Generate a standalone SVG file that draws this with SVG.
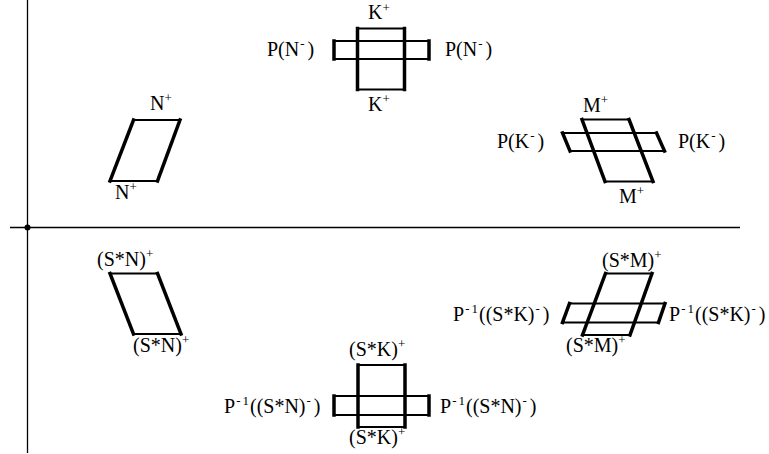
<svg xmlns="http://www.w3.org/2000/svg" width="769" height="454" viewBox="0 0 769 454">
<style>
text{font-family:"Liberation Serif","Times New Roman",serif;font-size:20px;fill:#000}
.s{font-size:13px}
.thin{stroke:#000;stroke-width:2;fill:none;stroke-linecap:square}
.thick{stroke:#000;stroke-width:3.5;fill:none;stroke-linecap:square}
.ax{stroke:#000;stroke-width:1.3;fill:none}
</style>
<rect width="769" height="454" fill="#fff"/>
<g id="axes">
<line class="ax" x1="27.5" y1="0" x2="27.5" y2="453"/>
<line class="ax" x1="10" y1="227.5" x2="740" y2="227.5"/>
<circle cx="27.5" cy="227.5" r="3" fill="#000"/>
</g>
<g id="connectors"></g>
<!-- top centre K -->
<g id="nodeK">
<line class="thin" x1="334" y1="41" x2="429" y2="41"/>
<line class="thin" x1="334" y1="59" x2="429" y2="59"/>
<line class="thick" x1="334" y1="41" x2="334" y2="59"/>
<line class="thick" x1="429" y1="41" x2="429" y2="59"/>
<line class="thin" x1="357.5" y1="28.5" x2="404.5" y2="28.5"/>
<line class="thin" x1="357.5" y1="89.5" x2="404.5" y2="89.5"/>
<line class="thick" x1="357.5" y1="28.5" x2="357.5" y2="89.5"/>
<line class="thick" x1="404.5" y1="28.5" x2="404.5" y2="89.5"/>
<text x="368" y="19">K<tspan class="s" dy="-7">+</tspan></text>
<text x="368" y="111">K<tspan class="s" dy="-8">+</tspan></text>
<text x="267" y="56">P(N<tspan class="s" dx="1" dy="-8">-</tspan><tspan dx="3" dy="8">)</tspan></text>
<text x="445" y="56">P(N<tspan class="s" dx="1" dy="-8">-</tspan><tspan dx="3" dy="8">)</tspan></text>
</g>
<!-- top left N -->
<g id="nodeN">
<line class="thin" x1="133.5" y1="120" x2="180" y2="120"/>
<line class="thin" x1="110" y1="181" x2="157.5" y2="181"/>
<line class="thick" x1="133.5" y1="120" x2="110" y2="181"/>
<line class="thick" x1="180" y1="120" x2="157.5" y2="181"/>
<text x="150" y="110">N<tspan class="s" dy="-8">+</tspan></text>
<text x="115" y="199">N<tspan class="s" dy="-8">+</tspan></text>
</g>
<!-- top right M -->
<g id="nodeM">
<line class="thin" x1="562.5" y1="133" x2="656.5" y2="133"/>
<line class="thin" x1="570" y1="151" x2="664.5" y2="151"/>
<line class="thick" x1="562.5" y1="133" x2="570" y2="151"/>
<line class="thick" x1="656.5" y1="133" x2="664.5" y2="151"/>
<line class="thin" x1="582" y1="119.5" x2="629" y2="119.5"/>
<line class="thin" x1="605" y1="181.5" x2="653" y2="181.5"/>
<line class="thick" x1="582" y1="119.5" x2="605" y2="181.5"/>
<line class="thick" x1="629" y1="119.5" x2="653" y2="181.5"/>
<text x="583" y="112">M<tspan class="s" dy="-8">+</tspan></text>
<text x="619" y="203">M<tspan class="s" dy="-8">+</tspan></text>
<text x="497" y="148">P(K<tspan class="s" dx="1" dy="-8">-</tspan><tspan dx="3" dy="8">)</tspan></text>
<text x="678" y="148">P(K<tspan class="s" dx="1" dy="-8">-</tspan><tspan dx="3" dy="8">)</tspan></text>
</g>
<!-- bottom left S*N -->
<g id="nodeSN">
<line class="thin" x1="110" y1="273.5" x2="157.5" y2="273.5"/>
<line class="thin" x1="133.5" y1="334" x2="181" y2="334"/>
<line class="thick" x1="110" y1="273.5" x2="133.5" y2="334"/>
<line class="thick" x1="157.5" y1="273.5" x2="181" y2="334"/>
<text x="97" y="266">(S*N)<tspan class="s" dy="-8">+</tspan></text>
<text x="133" y="352">(S*N)<tspan class="s" dy="-8">+</tspan></text>
</g>
<!-- bottom right S*M -->
<g id="nodeSM">
<line class="thin" x1="569.5" y1="303.5" x2="665" y2="303.5"/>
<line class="thin" x1="562.5" y1="322.5" x2="658.5" y2="322.5"/>
<line class="thick" x1="569.5" y1="303.5" x2="562.5" y2="322.5"/>
<line class="thick" x1="665" y1="303.5" x2="658.5" y2="322.5"/>
<line class="thin" x1="605.5" y1="273.5" x2="652" y2="273.5"/>
<line class="thin" x1="582.5" y1="335" x2="630" y2="335"/>
<line class="thick" x1="605.5" y1="273.5" x2="582.5" y2="335"/>
<line class="thick" x1="652" y1="273.5" x2="630" y2="335"/>
<text x="602" y="267">(S*M)<tspan class="s" dy="-8">+</tspan></text>
<text x="566" y="352">(S*M)<tspan class="s" dy="-8">+</tspan></text>
<text x="453" y="321">P<tspan class="s" dx="1" dy="-8">-</tspan><tspan class="s" dx="2">1</tspan><tspan dx="1" dy="8">((S*K)</tspan><tspan class="s" dx="1" dy="-8">-</tspan><tspan dx="3" dy="8">)</tspan></text>
<text x="669" y="321">P<tspan class="s" dx="1" dy="-8">-</tspan><tspan class="s" dx="2">1</tspan><tspan dx="1" dy="8">((S*K)</tspan><tspan class="s" dx="1" dy="-8">-</tspan><tspan dx="3" dy="8">)</tspan></text>
</g>
<!-- bottom centre S*K -->
<g id="nodeSK">
<line class="thin" x1="334" y1="396" x2="429" y2="396"/>
<line class="thin" x1="334" y1="415" x2="429" y2="415"/>
<line class="thick" x1="334" y1="396" x2="334" y2="415"/>
<line class="thick" x1="429" y1="396" x2="429" y2="415"/>
<line class="thin" x1="358" y1="365" x2="405" y2="365"/>
<line class="thin" x1="358" y1="427" x2="405" y2="427"/>
<line class="thick" x1="358" y1="365" x2="358" y2="427"/>
<line class="thick" x1="405" y1="365" x2="405" y2="427"/>
<text x="349" y="356">(S*K)<tspan class="s" dy="-8">+</tspan></text>
<text x="349" y="444">(S*K)<tspan class="s" dy="-8">+</tspan></text>
<text x="224" y="413">P<tspan class="s" dx="1" dy="-8">-</tspan><tspan class="s" dx="2">1</tspan><tspan dx="1" dy="8">((S*N)</tspan><tspan class="s" dx="1" dy="-8">-</tspan><tspan dx="3" dy="8">)</tspan></text>
<text x="440" y="413">P<tspan class="s" dx="1" dy="-8">-</tspan><tspan class="s" dx="2">1</tspan><tspan dx="1" dy="8">((S*N)</tspan><tspan class="s" dx="1" dy="-8">-</tspan><tspan dx="3" dy="8">)</tspan></text>
</g>
</svg>
